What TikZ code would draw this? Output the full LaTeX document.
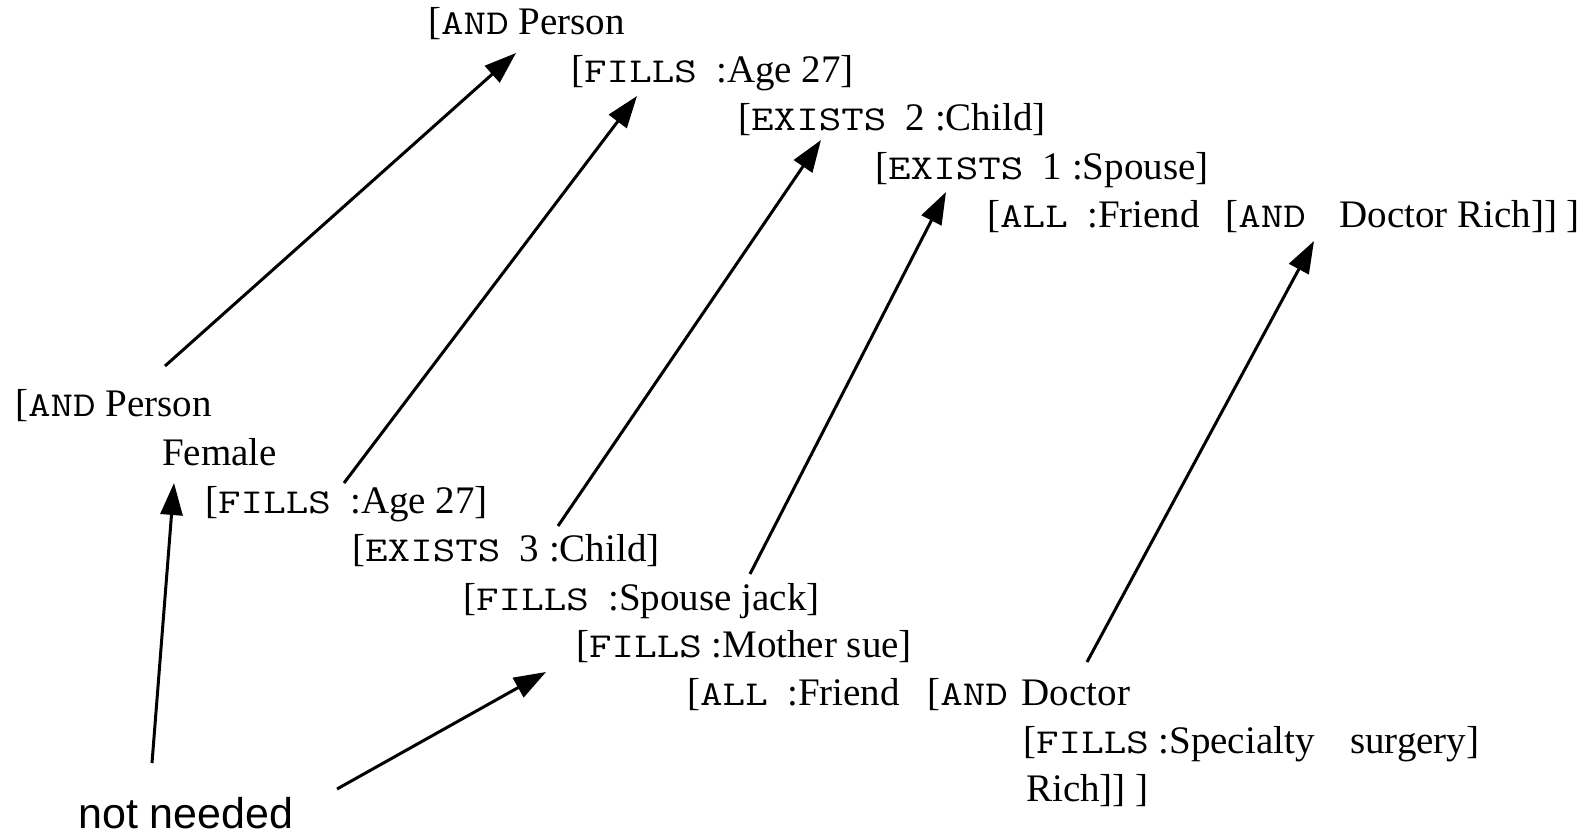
\documentclass[tikz,border=0pt]{standalone}
\usepackage{fontspec}
\setmainfont{Liberation Serif}
\newfontfamily\sans{Liberation Sans}
\usetikzlibrary{arrows.meta}
\tikzset{
  ln/.style={anchor=base west, inner sep=0pt, font=\fontsize{39}{46}\selectfont},
  note/.style={anchor=base west, inner sep=0pt, font=\sans\fontsize{43}{50}\selectfont},
  arr/.style={line width=3pt, -{Triangle[length=32pt,width=22pt]}},
}
\newcommand{\K}[1]{{\ttfamily\fontsize{35}{35}\selectfont\scalebox{1.25}[1]{#1}}}
\begin{document}
\begin{tikzpicture}[x=1pt,y=-1pt]
\useasboundingbox (0,0) rectangle (1585,838);
% top description
\node[ln] (t1) at (428,34) {[\K{AND} Person};
\node[ln] (t2) at (571,82) {[\K{FILLS}\ \ :Age 27]};
\node[ln] (t3) at (738,130) {[\K{EXISTS}\ \ 2 :Child]};
\node[ln] (t4) at (875,179) {[\K{EXISTS}\ \ 1 :Spouse]};
\node[ln] (t5) at (987,227) {[\K{ALL}\ \ :Friend\ \ \hspace{6pt}[\K{AND}\ \ \hspace{14pt}Doctor Rich]] ]};
% bottom description
\node[ln] (b1) at (15,416) {[\K{AND} Person};
\node[ln] (b2) at (162,465) {Female};
\node[ln] (b3) at (205,513) {[\K{FILLS}\ \ :Age 27]};
\node[ln] (b4) at (352,561) {[\K{EXISTS}\ \ 3 :Child]};
\node[ln] (b5) at (463,610) {[\K{FILLS}\ \ :Spouse jack]};
\node[ln] (b6) at (576,657) {[\K{FILLS} :Mother sue]};
\node[ln] (b7) at (687,705) {[\K{ALL}\ \ :Friend\ \ \hspace{8pt}[\K{AND}\hspace{4pt} Doctor};
\node[ln] (b8) at (1023,753) {[\K{FILLS} :Specialty\ \ \hspace{16pt}surgery]};
\node[ln] (b9) at (1026,801) {Rich]] ]};
\node[note] (nn) at (78,828) {not needed};
% arrow ends
\coordinate (a1s) at (165,366); \coordinate (a1e) at (516,53);
\coordinate (a2s) at (344,483); \coordinate (a2e) at (637,96);
\coordinate (a3s) at (558,526); \coordinate (a3e) at (821,140);
\coordinate (a4s) at (750,574); \coordinate (a4e) at (946,192);
\coordinate (a5s) at (1087,662); \coordinate (a5e) at (1314,241);
\coordinate (a6s) at (152,763); \coordinate (a6e) at (174,483);
\coordinate (a7s) at (337,789); \coordinate (a7e) at (546,672);
\draw[arr] (a1s) -- (a1e);
\draw[arr] (a2s) -- (a2e);
\draw[arr] (a3s) -- (a3e);
\draw[arr] (a4s) -- (a4e);
\draw[arr] (a5s) -- (a5e);
\draw[arr] (a6s) -- (a6e);
\draw[arr] (a7s) -- (a7e);
\end{tikzpicture}
\end{document}
